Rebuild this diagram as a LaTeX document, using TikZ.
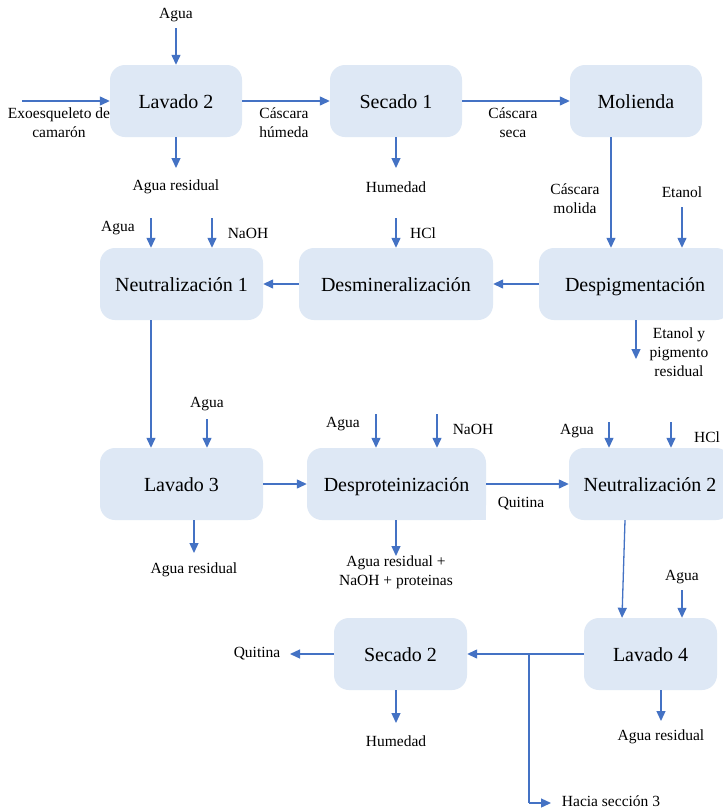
\documentclass[tikz,border=0pt]{standalone}
\usepackage{fontspec}
\setmainfont{Liberation Serif}
\usetikzlibrary{arrows.meta}
\definecolor{boxfill}{HTML}{DEE8F5}
\definecolor{arrowblue}{HTML}{4472C4}
\tikzset{
 proc/.style={rectangle, rounded corners=15pt, fill=boxfill, draw=none, minimum height=72pt, inner sep=0pt, text height=18pt, text depth=4pt, font=\fontsize{20}{23}\selectfont},
 lbl/.style={inner sep=0pt, align=center, font=\fontsize{15.5}{19}\selectfont},
 arr/.style={draw=arrowblue, line width=1.3pt, -{Triangle[length=10pt,width=9pt]}},
 ln/.style={draw=arrowblue, line width=1.3pt},
}
\begin{document}
\begin{tikzpicture}[x=1pt,y=-1pt]
\useasboundingbox (0,0) rectangle (723,809);
\clip (0,0) rectangle (723,809);
\fill[white] (0,0) rectangle (723,809);
% boxes
\node[proc, minimum width=132pt] (lav2) at (176,101) {Lavado 2};
\node[proc, minimum width=132pt] (sec1) at (396,101) {Secado 1};
\node[proc, minimum width=132pt] (mol) at (636,101) {Molienda};
\node[proc, minimum width=192pt] (despig) at (635,284) {Despigmentación};
\node[proc, minimum width=194pt] (desmin) at (396,284) {Desmineralización};
\node[proc, minimum width=163pt] (neut1) at (181.5,284) {Neutralización 1};
\node[proc, minimum width=163pt] (lav3) at (181.5,484) {Lavado 3};
\node[proc, minimum width=179pt] (desprot) at (396.5,484) {Desproteinización};
\fill[boxfill] (desprot.south east) rectangle ([xshift=-16pt,yshift=16pt]desprot.south east);
\node[proc, minimum width=162pt] (neut2) at (650,484) {Neutralización 2};
\node[proc, minimum width=133pt] (sec2) at (400.5,654) {Secado 2};
\node[proc, minimum width=133pt] (lav4) at (650.5,654) {Lavado 4};

% Lavado 2
\node[lbl] (tAguaA) at (176,15) {Agua};
\coordinate (cAguaA) at (176,28);
\draw[arr] (cAguaA) -- (lav2.north);
\node[lbl] (tExo) at (59,122.5) {Exoesqueleto de\\camarón};
\coordinate (cExo) at (22,101);
\draw[arr] (cExo) -- (lav2.west);
\coordinate (cResA) at (176,168);
\draw[arr] (lav2.south) -- (cResA);
\node[lbl] (tResA) at (176,187) {Agua residual};
\draw[arr] (lav2.east) -- (sec1.west);
\node[lbl] (tHum) at (284,122.5) {Cáscara\\húmeda};

% Secado 1
\coordinate (cHumA) at (396,168);
\draw[arr] (sec1.south) -- (cHumA);
\node[lbl] (tHumA) at (396,187) {Humedad};
\draw[arr] (sec1.east) -- (mol.west);
\node[lbl] (tSeca) at (513,122.5) {Cáscara\\seca};

% Molienda / Despigmentacion
\coordinate (cMol) at (611,0);
\draw[arr] (cMol |- mol.south) -- (cMol |- despig.north);
\node[lbl] (tMolida) at (575,198.5) {Cáscara\\molida};
\node[lbl] (tEtanol) at (682,192) {Etanol};
\coordinate (cEtanol) at (682,207);
\draw[arr] (cEtanol) -- (cEtanol |- despig.north);
\coordinate (cPigA) at (636,0);
\coordinate (cPigB) at (636,359);
\draw[arr] (cPigA |- despig.south) -- (cPigB);
\node[lbl] (tPig) at (679,352) {Etanol y\\pigmento\\residual};
\draw[arr] (despig.west) -- (desmin.east);

% Desmineralizacion
\coordinate (cHCl) at (396,218);
\draw[arr] (cHCl) -- (desmin.north);
\node[lbl] (tHCl) at (423,233) {HCl};
\draw[arr] (desmin.west) -- (neut1.east);

% Neutralizacion 1
\node[lbl] (tAguaB) at (118,228) {Agua};
\coordinate (cAguaB) at (151,218);
\draw[arr] (cAguaB) -- (cAguaB |- neut1.north);
\coordinate (cNaOHB) at (212,218);
\draw[arr] (cNaOHB) -- (cNaOHB |- neut1.north);
\node[lbl] (tNaOHB) at (248,233) {NaOH};
\draw[arr] (cAguaB |- neut1.south) -- (cAguaB |- lav3.north);

% Lavado 3
\node[lbl] (tAguaC) at (207,404) {Agua};
\coordinate (cAguaC) at (207,419);
\draw[arr] (cAguaC) -- (cAguaC |- lav3.north);
\coordinate (cResC) at (194,553);
\draw[arr] (cResC |- lav3.south) -- (cResC);
\node[lbl] (tResC) at (194,570) {Agua residual};
\draw[arr] (lav3.east) -- (desprot.west);

% Desproteinizacion
\node[lbl] (tAguaD) at (343,424) {Agua};
\coordinate (cAguaD) at (376,414);
\draw[arr] (cAguaD) -- (cAguaD |- desprot.north);
\coordinate (cNaOHD) at (437,414);
\draw[arr] (cNaOHD) -- (cNaOHD |- desprot.north);
\node[lbl] (tNaOHD) at (473,429) {NaOH};
\coordinate (cResD) at (396,556);
\draw[arr] (cResD |- desprot.south) -- (cResD);
\node[lbl] (tResD) at (396,572) {Agua residual +\\NaOH + proteinas};
\draw[arr] (desprot.east) -- (neut2.west);
\node[lbl] (tQuitA) at (521,504) {Quitina};

% Neutralizacion 2
\node[lbl] (tAguaE) at (577,431) {Agua};
\coordinate (cAguaE) at (609,422);
\draw[arr] (cAguaE) -- (cAguaE |- neut2.north);
\coordinate (cHClE) at (671,422);
\draw[arr] (cHClE) -- (cHClE |- neut2.north);
\node[lbl] (tHClE) at (707,437) {HCl};
\coordinate (cN2a) at (625,0);
\coordinate (cN2b) at (622,0);
\draw[arr] (cN2a |- neut2.south) -- (cN2b |- lav4.north);

% Lavado 4
\node[lbl] (tAguaF) at (682,577) {Agua};
\coordinate (cAguaF) at (682,590);
\draw[arr] (cAguaF) -- (cAguaF |- lav4.north);
\coordinate (cResF) at (661,721);
\draw[arr] (cResF |- lav4.south) -- (cResF);
\node[lbl] (tResF) at (661,737) {Agua residual};
\draw[arr] (lav4.west) -- (sec2.east);
\coordinate (cJ) at (529,654);
\coordinate (cJd) at (529,803);
\coordinate (cJe) at (551,803);
\draw[ln] (cJ) -- (cJd);
\draw[arr] (cJd) -- (cJe);
\node[lbl] (tHacia) at (611,801) {Hacia sección 3};

% Secado 2
\coordinate (cHumG) at (396,723);
\draw[arr] (cHumG |- sec2.south) -- (cHumG);
\node[lbl] (tHumG) at (396,741) {Humedad};
\coordinate (cQuitG) at (290,654);
\draw[arr] (sec2.west) -- (cQuitG);
\node[lbl] (tQuitG) at (257,654) {Quitina};
\end{tikzpicture}
\end{document}
